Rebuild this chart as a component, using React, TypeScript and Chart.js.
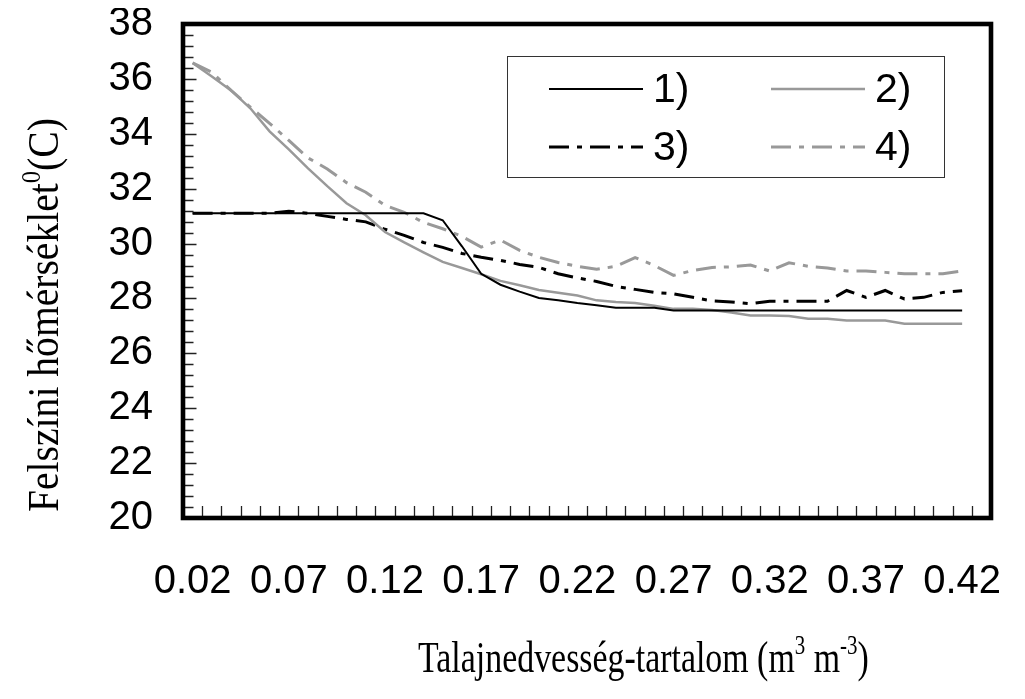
import React, { useEffect, useRef } from 'react';
import { Chart, registerables } from 'chart.js';

Chart.register(...registerables);

// ---- data ----
const categories = [
  '0.02', '0.03', '0.04', '0.05', '0.06', '0.07', '0.08', '0.09', '0.10', '0.11',
  '0.12', '0.13', '0.14', '0.15', '0.16', '0.17', '0.18', '0.19', '0.20', '0.21',
  '0.22', '0.23', '0.24', '0.25', '0.26', '0.27', '0.28', '0.29', '0.30', '0.31',
  '0.32', '0.33', '0.34', '0.35', '0.36', '0.37', '0.38', '0.39', '0.40', '0.41',
  '0.42', '0.43',
];
const labelEvery = 5;
const lastLabelIndex = 40;

const yMin = 20;
const yMax = 38;
const yStep = 2;
const yMinorStep = 0.4;

const seriesLabels = ['1)', '2)', '3)', '4)'];

const series1 = [
  31.1, 31.1, 31.1, 31.1, 31.1, 31.1, 31.1, 31.1, 31.1, 31.1,
  31.1, 31.1, 31.1, 30.85, 29.9, 28.9, 28.5, 28.25, 28.02, 27.93,
  27.83, 27.75, 27.66, 27.66, 27.66, 27.56, 27.56, 27.56, 27.56, 27.56,
  27.56, 27.56, 27.56, 27.56, 27.56, 27.56, 27.56, 27.56, 27.56, 27.56,
  27.56,
];
const series2 = [
  36.58, 36.09, 35.58, 34.93, 34.09, 33.43, 32.74, 32.09, 31.47, 31.03,
  30.42, 30.04, 29.68, 29.33, 29.11, 28.88, 28.64, 28.48, 28.31, 28.21,
  28.11, 27.93, 27.87, 27.83, 27.73, 27.62, 27.62, 27.58, 27.49, 27.38,
  27.38, 27.36, 27.26, 27.26, 27.2, 27.2, 27.2, 27.08, 27.08, 27.08,
  27.08,
];
const series3 = [
  31.1, 31.1, 31.1, 31.1, 31.1, 31.18, 31.1, 30.99, 30.88, 30.79,
  30.52, 30.3, 30.04, 29.86, 29.64, 29.5, 29.39, 29.24, 29.13, 28.9,
  28.75, 28.62, 28.44, 28.33, 28.22, 28.17, 28.04, 27.91, 27.87, 27.81,
  27.9, 27.9, 27.9, 27.9, 28.29, 28.04, 28.29, 27.98, 28.04, 28.22,
  28.28,
];
const series4 = [
  36.58, 36.24, 35.58, 34.97, 34.38, 33.76, 33.12, 32.72, 32.22, 31.87,
  31.39, 31.14, 30.77, 30.54, 30.26, 29.87, 30.13, 29.75, 29.5, 29.31,
  29.17, 29.06, 29.17, 29.49, 29.2, 28.84, 29.02, 29.13, 29.15, 29.22,
  29.0, 29.3, 29.17, 29.11, 29.0, 29.0, 28.95, 28.9, 28.9, 28.9,
  29.0,
];

type Seg = { t: string; sup?: boolean };
const xTitle: Seg[] = [
  { t: 'Talajnedvesség-tartalom (m' }, { t: '3', sup: true }, { t: ' m' }, { t: '-3', sup: true }, { t: ')' },
];
const yTitle: Seg[] = [
  { t: 'Felszíni hőmérséklet' }, { t: '0', sup: true }, { t: '(C)' },
];

const SANS = '"Liberation Sans", Arial, sans-serif';
const SERIF = '"Liberation Serif", "Times New Roman", serif';
const BLACK = '#000000';
const GRAY = '#999999';
const DASHDOT = [20, 8, 5, 8];

function drawSegs(ctx: CanvasRenderingContext2D, segs: Seg[], size: number) {
  let cx = 0;
  for (const s of segs) {
    const fs = s.sup ? size * 0.62 : size;
    ctx.font = `${fs}px ${SERIF}`;
    ctx.fillText(s.t, cx, s.sup ? -size * 0.4 : 0);
    cx += ctx.measureText(s.t).width;
  }
  return cx;
}

const framePlugin = {
  id: 'frame',
  afterDatasetsDraw(chart: any) {
    const { ctx, chartArea: a, scales } = chart;
    const x = scales.x;
    const y = scales.y;
    ctx.save();
    // inward tick marks
    ctx.strokeStyle = '#222';
    ctx.lineWidth = 1.3;
    ctx.beginPath();
    for (let k = 1; k < categories.length; k++) {
      const px = Math.round(x.getPixelForValue(k - 0.5)) + 0.5;
      ctx.moveTo(px, a.bottom);
      ctx.lineTo(px, a.bottom - 12);
    }
    const n = Math.round((yMax - yMin) / yMinorStep);
    const per = Math.round(yStep / yMinorStep);
    for (let j = 1; j < n; j++) {
      const py = Math.round(y.getPixelForValue(yMin + j * yMinorStep)) + 0.5;
      const len = j % per === 0 ? 13.5 : 10.5;
      ctx.moveTo(a.left, py);
      ctx.lineTo(a.left + len, py);
    }
    ctx.stroke();
    // plot frame
    ctx.strokeStyle = '#000';
    ctx.lineWidth = 4.6;
    ctx.strokeRect(a.left, a.top, a.right - a.left, a.bottom - a.top);

    // legend
    const bx = a.left + 324;
    const by = a.top + 32;
    ctx.lineWidth = 1;
    ctx.strokeStyle = '#333';
    ctx.strokeRect(bx + 0.5, by + 0.5, 437, 121);
    chart.data.datasets.forEach((ds: any, i: number) => {
      const col = i % 2;
      const row = Math.floor(i / 2);
      const lx0 = bx + 42 + col * 222;
      const lx1 = lx0 + 94;
      const ly = by + 33 + row * 58;
      ctx.save();
      ctx.strokeStyle = ds.borderColor;
      ctx.lineWidth = ds.borderWidth;
      ctx.setLineDash(ds.borderDash || []);
      ctx.beginPath();
      ctx.moveTo(lx0, ly);
      ctx.lineTo(lx1, ly);
      ctx.stroke();
      ctx.restore();
      ctx.fillStyle = '#000';
      ctx.font = `41px ${SANS}`;
      ctx.textBaseline = 'middle';
      ctx.textAlign = 'left';
      ctx.fillText(ds.label, lx1 + 10, ly + 2);
    });

    // axis titles
    ctx.fillStyle = '#000';
    ctx.textBaseline = 'alphabetic';
    ctx.textAlign = 'left';
    ctx.save();
    ctx.translate(a.left + 235, a.bottom + 154);
    ctx.scale(0.77, 1);
    drawSegs(ctx, xTitle, 44);
    ctx.restore();

    ctx.save();
    ctx.translate(a.left - 125, a.bottom - 6);
    ctx.rotate(-Math.PI / 2);
    ctx.scale(0.9, 1);
    drawSegs(ctx, yTitle, 44);
    ctx.restore();
    ctx.restore();
  },
};

export default function App() {
  const ref = useRef<HTMLCanvasElement | null>(null);
  useEffect(() => {
    if (!ref.current) return;
    const mk = (label: string, data: number[], color: string, width: number, dash: number[]) => ({
      label, data, borderColor: color, backgroundColor: color, borderWidth: width, borderDash: dash,
      pointRadius: 0, tension: 0, fill: false, borderCapStyle: 'butt',
    });
    const chart = new Chart(ref.current, {
      type: 'line',
      data: {
        labels: categories,
        datasets: [
          mk(seriesLabels[0], series1, BLACK, 2, []),
          mk(seriesLabels[1], series2, GRAY, 2.5, []),
          mk(seriesLabels[2], series3, BLACK, 3, DASHDOT),
          mk(seriesLabels[3], series4, GRAY, 3, DASHDOT),
        ] as any,
      },
      options: {
        animation: false,
        responsive: true,
        maintainAspectRatio: false,
        layout: { padding: { top: 16, right: 26, left: 0, bottom: 0 } },
        plugins: { legend: { display: false }, tooltip: { enabled: false } },
        scales: {
          x: {
            type: 'category',
            offset: true,
            grid: { display: false, drawTicks: false },
            border: { display: false },
            ticks: {
              autoSkip: false,
              maxRotation: 0,
              minRotation: 0,
              padding: 40,
              color: '#000',
              font: { family: SANS, size: 40 },
              callback: (_v: any, i: number) => (i % labelEvery === 0 && i <= lastLabelIndex ? categories[i] : ''),
            },
            afterFit: (s: any) => { s.height = 173; s.paddingLeft = 0; s.paddingRight = 0; },
          },
          y: {
            min: yMin,
            max: yMax,
            grid: { display: false, drawTicks: false },
            border: { display: false },
            ticks: { stepSize: yStep, padding: 30, color: '#000', font: { family: SANS, size: 40 } },
            afterFit: (s: any) => { s.width = 175; s.paddingTop = 0; s.paddingBottom = 0; },
          },
        },
      } as any,
      plugins: [framePlugin],
    });
    return () => chart.destroy();
  }, []);
  return (
    <div style={{ width: 1009, height: 683, position: 'relative' }}>
      <canvas ref={ref} />
    </div>
  );
}
